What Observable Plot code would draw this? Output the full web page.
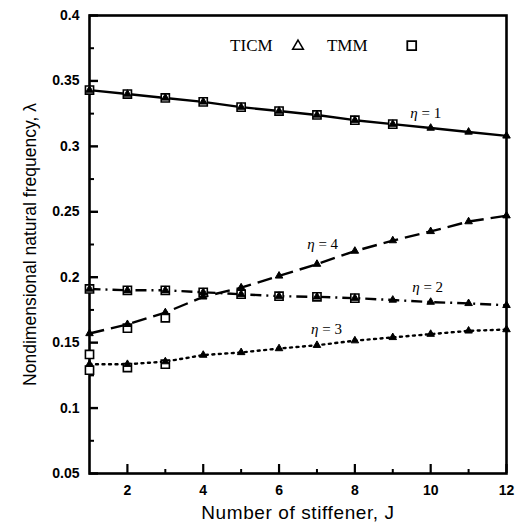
<!DOCTYPE html>
<html><head><meta charset="utf-8">
<script src="https://cdn.jsdelivr.net/npm/d3@7"></script>
<script src="https://cdn.jsdelivr.net/npm/@observablehq/plot@0.6"></script>
<style>body{margin:0;background:#fff}</style>
</head><body><div id="chart"></div>
<script>
const J = [1,2,3,4,5,6,7,8,9,10,11,12];
const ticmEta1 = [0.343,0.340,0.337,0.334,0.330,0.327,0.324,0.320,0.317,0.314,0.311,0.308];
const ticmEta2 = [0.191,0.190,0.190,0.1885,0.187,0.1855,0.185,0.184,0.1826,0.181,0.180,0.1785];
const ticmEta3 = [0.1335,0.1335,0.1355,0.1405,0.1425,0.1455,0.148,0.1515,0.154,0.1565,0.159,0.160];
const ticmEta4 = [0.157,0.164,0.173,0.185,0.192,0.201,0.210,0.220,0.228,0.235,0.2425,0.247];
const tmmEta1 = [0.343,0.340,0.337,0.334,0.330,0.327,0.324,0.320,0.317,null,null,null];
const tmmEta2 = [0.191,0.190,0.190,0.1885,0.187,0.1855,0.185,0.184,null,null,null,null];
const tmmEta3 = [0.129,0.131,0.1335,null,null,null,null,null,null,null,null,null];
const tmmEta4 = [0.141,0.161,0.169,null,null,null,null,null,null,null,null,null];
const yTicks = [0.05,0.1,0.15,0.2,0.25,0.3,0.35,0.4];
const yMinor = [0.075,0.125,0.175,0.225,0.275,0.325,0.375];
const xTicks = [2,4,6,8,10,12];
const xMinor = [3,5,7,9,11];
const etaLabels = [
  {x:9.87,y:0.3254,n:"1"},
  {x:7.15,y:0.225,n:"4"},
  {x:9.92,y:0.192,n:"2"},
  {x:7.25,y:0.160,n:"3"}
];
const legendText = [{x:5.27,y:0.377,t:"TICM"},{x:7.8,y:0.377,t:"TMM"}];
const legendTri = [{x:6.5,y:0.3765}];
const legendSq = [{x:9.5,y:0.377}];

const series = [
  {name:"η=1", ticm:ticmEta1, tmm:tmmEta1, dash:null},
  {name:"η=2", ticm:ticmEta2, tmm:tmmEta2, dash:"11,5,2,5"},
  {name:"η=3", ticm:ticmEta3, tmm:tmmEta3, dash:"2,4.5"},
  {name:"η=4", ticm:ticmEta4, tmm:tmmEta4, dash:"15,7"}
];
const rows = (arr, name) => J.map((j,i)=>({x:j, y:arr[i], s:name})).filter(d=>d.y!=null);

const marks = [];
for (const s of series) {
  marks.push(Plot.line(rows(s.ticm, s.name), {x:"x", y:"y", stroke:"#000", strokeWidth:2.4,
    strokeDasharray: s.dash || undefined, strokeLinecap: s.name==="η=3" ? "round" : "butt"}));
}
for (const s of series) {
  marks.push(Plot.dot(rows(s.tmm, s.name), {x:"x", y:"y", symbol:"square", r:4.6, fill:"#fff", stroke:"#000", strokeWidth:1.6}));
}
for (const s of series) {
  marks.push(Plot.dot(rows(s.ticm, s.name), {x:"x", y:"y", symbol:"triangle", r:2.8, fill:"#000", stroke:"#000", strokeWidth:1}));
}

const chart = Plot.plot({
  width:532, height:522,
  marginLeft:89, marginRight:26, marginTop:15, marginBottom:49,
  style:{background:"#fff", color:"#000"},
  x:{domain:[1,12]},
  y:{domain:[0.05,0.4]},
  marks:[
    Plot.axisY({ticks:yTicks, tickSize:-9, text:null, label:null, strokeWidth:2.4}),
    Plot.axisY({ticks:yMinor, tickSize:-5, text:null, label:null, strokeWidth:2}),
    Plot.axisY({ticks:yTicks, tickSize:0, tickPadding:10, tickFormat:d=>String(+d.toFixed(3)),
      fontSize:14, fontWeight:"bold", fontFamily:"Liberation Sans, Arial, sans-serif",
      label:"Nondimensional natural frequency, λ", labelAnchor:"center", labelOffset:66, labelArrow:"none"}),
    Plot.axisX({ticks:xTicks, tickSize:-9, text:null, label:null, strokeWidth:2.2}),
    Plot.axisX({ticks:xMinor, tickSize:-4, text:null, label:null, strokeWidth:2}),
    Plot.axisX({ticks:xTicks, tickSize:0, tickPadding:12, fontSize:14, fontWeight:"bold",
      fontFamily:"Liberation Sans, Arial, sans-serif",
      label:"Number of stiffener, J", labelAnchor:"center", labelOffset:45, labelArrow:"none"}),
    Plot.frame({stroke:"#000", strokeWidth:2.6}),
    ...marks,
    Plot.text(etaLabels, {x:"x", y:"y", text:"n", fontFamily:"Liberation Serif, Times New Roman, serif", fontSize:15, fill:"#000", className:"eta"}),
    Plot.text(legendText, {x:"x", y:"y", text:"t", fontFamily:"Liberation Serif, Times New Roman, serif", fontSize:17, fill:"#000"}),
    Plot.dot(legendTri, {x:"x", y:"y", symbol:"triangle", r:4, fill:"#fff", stroke:"#000", strokeWidth:1.5}),
    Plot.dot(legendSq, {x:"x", y:"y", symbol:"square", r:5, fill:"#fff", stroke:"#000", strokeWidth:1.8})
  ]
});
chart.querySelectorAll('g[aria-label="y-axis label"] text').forEach(t=>{
  t.setAttribute("font-size","17.5"); t.setAttribute("font-weight","normal");
  t.setAttribute("font-family","Liberation Sans, Arial, sans-serif");
});
chart.querySelectorAll('g[aria-label="x-axis label"] text').forEach(t=>{
  t.setAttribute("font-size","19"); t.setAttribute("font-weight","normal");
  t.setAttribute("font-family","Liberation Sans, Arial, sans-serif");
  t.setAttribute("letter-spacing","0.6");
});
// rich eta labels: italic η, roman "=n"
chart.querySelectorAll('g.eta text').forEach(t=>{
  const n = t.textContent;
  t.textContent = "";
  const a = document.createElementNS("http://www.w3.org/2000/svg","tspan");
  a.setAttribute("font-style","italic"); a.textContent = "η";
  const b = document.createElementNS("http://www.w3.org/2000/svg","tspan");
  b.textContent = " = " + n;
  t.appendChild(a); t.appendChild(b);
});
document.getElementById("chart").appendChild(chart);
</script></body></html>
